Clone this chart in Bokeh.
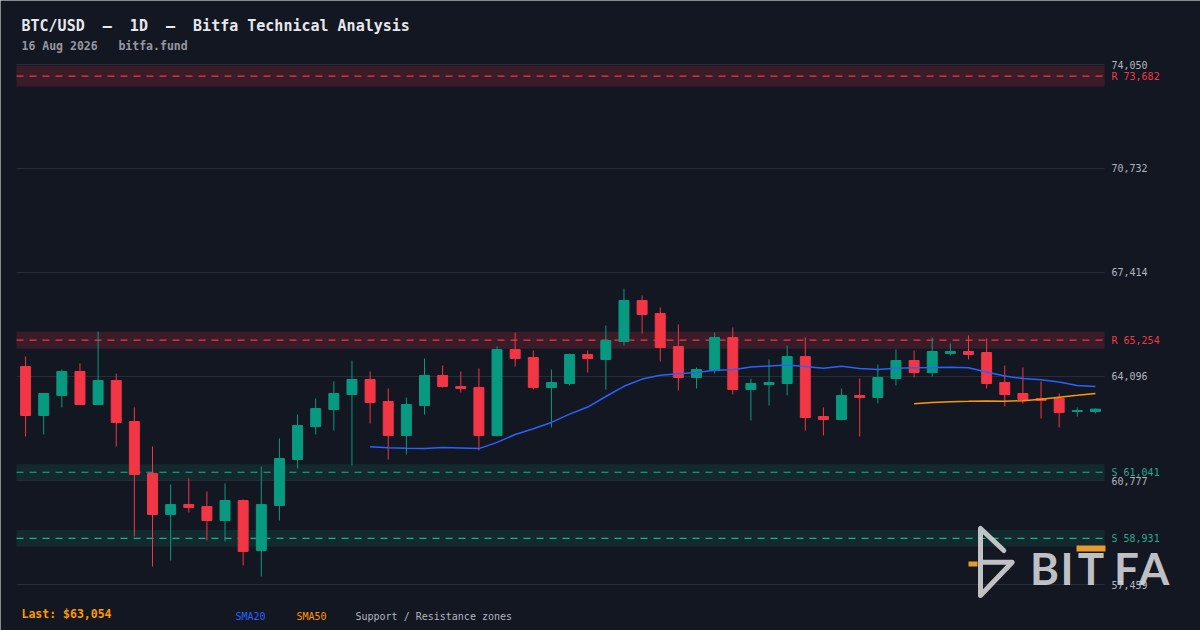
import pandas as pd
from bokeh.plotting import figure
from bokeh.models import Range1d, Label, ColumnDataSource
from bokeh.embed import file_html
from bokeh.resources import INLINE

# ---------------- data ----------------
opens = [64415, 62851, 63490, 64255, 63202, 63968, 62660, 61002, 59693, 60012,
         59948, 59501, 60139, 58545, 59980, 61448, 62500, 63043, 63521, 64000,
         63298, 62214, 63170, 64128, 63777, 63745, 62214, 64957, 64702, 63745,
         63872, 64798, 64638, 65212, 66521, 66106, 65053, 64064, 64287, 65340,
         63681, 63840, 63872, 64734, 62819, 62724, 63490, 63426, 64032, 64606,
         64223, 64830, 64893, 64861, 63904, 63553, 63394, 63394, 62979, 62979]
highs = [64734, 63570, 64319, 64511, 65532, 64191, 63107, 61863, 60651, 60842,
         60428, 60683, 60170, 61225, 62118, 62883, 63394, 63936, 64606, 64255,
         63713, 63426, 64670, 64447, 64255, 64351, 65053, 65500, 64925, 64319,
         64830, 64925, 65723, 66903, 66680, 66297, 65755, 64383, 65500, 65659,
         64032, 64638, 65085, 65340, 63107, 63713, 64032, 64479, 64957, 64925,
         65340, 65149, 65404, 65308, 64447, 64383, 63936, 63553, 63107, 63075]
lows = [62182, 62245, 63107, 63190, 63190, 61863, 58991, 58035, 58226, 59757,
        58864, 58832, 58067, 57716, 59501, 61161, 62245, 62373, 61257, 62596,
        61448, 61608, 62883, 63745, 63585, 61735, 62182, 64415, 63681, 62468,
        63809, 64223, 63681, 65085, 65468, 64574, 63649, 63713, 64191, 63521,
        62692, 63170, 63490, 62373, 62214, 62700, 62182, 63234, 63809, 64064,
        64096, 64766, 64638, 63713, 63139, 63234, 62756, 62468, 62819, 62915]
closes = [62851, 63553, 64255, 63202, 63968, 62628, 60970, 59693, 60012, 59916,
          59501, 60139, 58513, 60012, 61480, 62532, 63075, 63553, 64000, 63266,
          62214, 63202, 64128, 63777, 63713, 62214, 64957, 64670, 63745, 63904,
          64798, 64670, 65244, 66521, 66074, 65021, 64064, 64319, 65340, 63681,
          63872, 63904, 64734, 62787, 62724, 63490, 63426, 64064, 64606, 64223,
          64893, 64893, 64798, 63872, 63521, 63362, 63330, 62947, 63011, 63054]

resistance_levels = [73682, 65254]
resistance_half = [330, 270]
support_levels = [61041, 58931]
support_half = [255, 265]

tick_values = [57459, 60777, 64096, 67414, 70732, 74050]

NB = "\u00a0"
title_text = f"BTC/USD{NB*2}\u2013{NB*2}1D{NB*2}\u2013{NB*2}Bitfa Technical Analysis"
subtitle_text = f"16 Aug 2026{NB*3}bitfa.fund"
last_text = "Last: $63,054"
legend_items = ["SMA20", "SMA50", "Support / Resistance zones"]

# ---------------- style ----------------
BG = "#131722"
GRID = "#2a2e39"
UP = "#089981"
DOWN = "#f23645"
RES = "#f23645"
SUP = "#22ab94"
RES_ZONE = "#3a1c29"
SUP_ZONE = "#122a2e"
SMA20_C = "#2962ff"
SMA50_C = "#ff9800"
AXIS_TXT = "#b2b5be"
MONO = "DejaVu Sans Mono"

W, H = 1200, 630
PLOT_L, PLOT_R = 16, 1104          # horizontal extent of the price area (px)
GRID_TOP_PX, GRID_BOTTOM_PX = 64, 584

n = len(closes)
a_lo, a_hi = -0.5, n - 0.5          # candle slot extent
ppx = (PLOT_R - PLOT_L) / (a_hi - a_lo)
vpp = (tick_values[-1] - tick_values[0]) / (GRID_BOTTOM_PX - GRID_TOP_PX)
x_lo = a_lo - PLOT_L / ppx
x_hi = a_hi + (W - PLOT_R) / ppx
y_hi = tick_values[-1] + GRID_TOP_PX * vpp
y_lo = tick_values[0] - (H - GRID_BOTTOM_PX) * vpp


def cx(px):
    return x_lo + px / ppx


def cy(py):
    return y_hi - py * vpp


p = figure(width=W, height=H, x_range=Range1d(x_lo, x_hi), y_range=Range1d(y_lo, y_hi),
           output_backend="svg", toolbar_location=None, x_axis_location=None,
           y_axis_location=None, min_border=0, background_fill_color=BG,
           border_fill_color=BG, outline_line_color=None)
p.grid.visible = False

# horizontal price grid + price labels
p.segment(x0=a_lo, x1=a_hi, y0=tick_values, y1=tick_values, line_color=GRID, line_width=1)
for t in tick_values:
    p.add_layout(Label(x=a_hi, y=t, x_offset=7, text=f"{t:,}", text_baseline="middle",
                       text_font=MONO, text_font_size="10px", text_color=AXIS_TXT))

# support / resistance zones
p.hbar(y=resistance_levels, height=[2 * h for h in resistance_half], left=a_lo, right=a_hi,
       fill_color=RES_ZONE, line_color=None)
p.hbar(y=support_levels, height=[2 * h for h in support_half], left=a_lo, right=a_hi,
       fill_color=SUP_ZONE, line_color=None)
p.segment(x0=a_lo, x1=a_hi, y0=resistance_levels, y1=resistance_levels, line_color=RES,
          line_width=1.2, line_dash="7 6")
p.segment(x0=a_lo, x1=a_hi, y0=support_levels, y1=support_levels, line_color=SUP,
          line_width=1.2, line_dash="7 6")
for lv in resistance_levels:
    p.add_layout(Label(x=a_hi, y=lv, x_offset=7, text=f"R {lv:,}", text_baseline="middle",
                       text_font=MONO, text_font_size="10px", text_color=RES))
for lv in support_levels:
    p.add_layout(Label(x=a_hi, y=lv, x_offset=7, text=f"S {lv:,}", text_baseline="middle",
                       text_font=MONO, text_font_size="10px", text_color=SUP))

# candles
idx = list(range(n))
src = ColumnDataSource(dict(
    x=idx, o=opens, h=highs, l=lows, c=closes,
    top=[max(o, c) for o, c in zip(opens, closes)],
    bottom=[min(o, c) for o, c in zip(opens, closes)],
    color=[UP if c >= o else DOWN for o, c in zip(opens, closes)],
))
p.segment(x0="x", y0="h", x1="x", y1="l", line_color="color", line_width=1, source=src)
p.vbar(x="x", width=0.55, top="top", bottom="bottom", fill_color="color",
       line_color="color", line_width=1, source=src)

# moving averages
cs = pd.Series(closes, dtype=float)
sma20 = cs.rolling(20).mean()
sma50 = cs.rolling(50).mean()
m20 = sma20.notna()
m50 = sma50.notna()
p.line([i for i in idx if m20[i]], list(sma20[m20]), line_color=SMA20_C, line_width=1.5)
p.line([i for i in idx if m50[i]], list(sma50[m50]), line_color=SMA50_C, line_width=1.5)

# logo watermark
LOGO = "#d8d9dc"
ORANGE = "#e89a2c"
p.line([cx(1003.3), cx(980), cx(980), cx(1011.7), cx(980)],
       [cy(550), cy(528), cy(595), cy(561.7), cy(561.7)],
       line_color=LOGO, line_alpha=0.88, line_width=5, line_cap="round", line_join="round")
p.quad(left=[cx(968)], right=[cx(977)], top=[cy(561)], bottom=[cy(566)],
       fill_color=ORANGE, line_color=None)
for ch, xc in zip("BITFA", [1044, 1066.5, 1090.5, 1126, 1153.5]):
    p.add_layout(Label(x=xc, y=567, x_units="canvas", y_units="canvas", text=ch,
                       text_align="center", text_baseline="middle", text_font="Lato",
                       text_font_style="bold", text_font_size="44px", text_color=LOGO,
                       text_alpha=0.88))
p.quad(left=[cx(1076)], right=[cx(1105)], top=[cy(545)], bottom=[cy(551)],
       fill_color=ORANGE, line_color=None)

# header
p.add_layout(Label(x=21, y=25, x_units="canvas", y_units="canvas", text=title_text,
                   text_font=MONO, text_font_size="15px", text_font_style="bold",
                   text_color="#e6e8ee", text_baseline="middle"))
p.add_layout(Label(x=21, y=45.7, x_units="canvas", y_units="canvas", text=subtitle_text,
                   text_font=MONO, text_font_size="11.5px", text_font_style="bold",
                   text_color="#9598a1", text_baseline="middle"))

# footer legend
p.add_layout(Label(x=21, y=613.4, x_units="canvas", y_units="canvas", text=last_text,
                   text_font=MONO, text_font_size="11.5px", text_font_style="bold",
                   text_color=SMA50_C, text_baseline="middle"))
for txt, xx, col in zip(legend_items, [235, 296, 355], [SMA20_C, SMA50_C, AXIS_TXT]):
    p.add_layout(Label(x=xx, y=615.5, x_units="canvas", y_units="canvas", text=txt,
                       text_font=MONO, text_font_size="10px", text_color=col,
                       text_baseline="middle"))

open("out.html", "w").write(file_html(p, INLINE))
